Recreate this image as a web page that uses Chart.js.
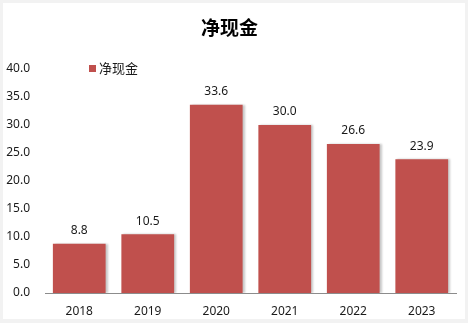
<!DOCTYPE html>
<html>
<head>
<meta charset="utf-8">
<script src="https://cdn.jsdelivr.net/npm/chart.js@4.4.1/dist/chart.umd.min.js"></script>
<style>
  html, body { margin: 0; padding: 0; background: #f2f2f2; }
  #wrap { width: 468px; height: 323px; position: relative; }
  canvas { display: block; }
</style>
</head>
<body>
<div id="wrap"><canvas id="c" width="468" height="323"></canvas></div>
<script>
const years = ['2018', '2019', '2020', '2021', '2022', '2023'];
const netCash = [8.8, 10.5, 33.6, 30.0, 26.6, 23.9];
const seriesName = '净现金';
const titleText = '净现金';

const FONT = '"Noto Sans", "Noto Sans CJK SC", sans-serif';
const BAR_COLOR = '#C0504D';

// white panel with a thin grey frame
const panelPlugin = {
  id: 'panel',
  beforeDraw(chart) {
    const { ctx, width, height } = chart;
    ctx.save();
    ctx.fillStyle = '#f2f2f2';
    ctx.fillRect(0, 0, width, height);
    ctx.fillStyle = '#ffffff';
    ctx.fillRect(3, 3, width - 6, height - 7);
    ctx.restore();
  }
};

// soft shadow to the right of each bar
const barShadowPlugin = {
  id: 'barShadow',
  beforeDatasetsDraw(chart) {
    const ctx = chart.ctx;
    ctx.save();
    ctx.shadowColor = 'rgba(0,0,0,0.22)';
    ctx.shadowBlur = 2;
    ctx.shadowOffsetX = 2;
    ctx.shadowOffsetY = 0;
  },
  afterDatasetsDraw(chart) {
    chart.ctx.restore();
  }
};

// value labels above the bars and the inline legend
const labelsPlugin = {
  id: 'valueLabels',
  afterDraw(chart) {
    const ctx = chart.ctx;
    const meta = chart.getDatasetMeta(0);
    const data = chart.data.datasets[0].data;
    ctx.save();
    ctx.font = '12px ' + FONT;
    ctx.fillStyle = '#1a1a1a';
    ctx.textAlign = 'center';
    ctx.textBaseline = 'middle';
    meta.data.forEach((bar, i) => {
      ctx.fillText(data[i].toFixed(1), bar.x, bar.y - 13);
    });

    // legend
    const lx = 89, ly = 69;
    ctx.fillStyle = BAR_COLOR;
    ctx.fillRect(lx, ly - 4, 7, 7);
    ctx.fillStyle = '#1a1a1a';
    ctx.font = '13px ' + FONT;
    ctx.textAlign = 'left';
    ctx.fillText(chart.data.datasets[0].label, lx + 10, ly);
    ctx.restore();
  }
};

new Chart(document.getElementById('c'), {
  type: 'bar',
  data: {
    labels: years,
    datasets: [{
      label: seriesName,
      data: netCash,
      backgroundColor: BAR_COLOR,
      borderWidth: 0,
      categoryPercentage: 1.0,
      barPercentage: 0.77
    }]
  },
  options: {
    responsive: false,
    animation: false,
    devicePixelRatio: 1,
    layout: { padding: { top: 3, left: 3, right: 12, bottom: 4 } },
    plugins: {
      legend: { display: false },
      tooltip: { enabled: false },
      title: {
        display: true,
        text: titleText,
        color: '#000',
        font: { family: FONT, size: 19, weight: 'bold' },
        padding: { top: 15, bottom: 28.2 }
      }
    },
    scales: {
      x: {
        grid: { display: false, drawTicks: false },
        border: { display: true, color: '#8c8c8c', width: 1 },
        ticks: { color: '#1a1a1a', font: { family: FONT, size: 12 }, padding: 11 },
        afterFit(scale) { scale.height = 26; }
      },
      y: {
        min: 0,
        max: 40,
        grid: { display: false, drawTicks: false },
        border: { display: false },
        ticks: {
          stepSize: 5,
          color: '#1a1a1a',
          font: { family: FONT, size: 12 },
          padding: 15,
          callback: v => Number(v).toFixed(1)
        },
        afterFit(scale) { scale.width = 42; }
      }
    }
  },
  plugins: [panelPlugin, barShadowPlugin, labelsPlugin]
});
</script>
</body>
</html>
